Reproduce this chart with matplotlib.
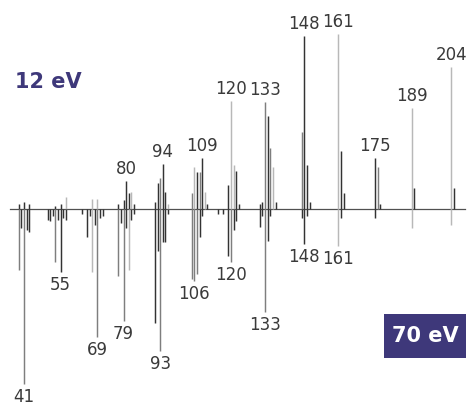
import matplotlib
matplotlib.use("Agg")
import matplotlib.pyplot as plt

# ---------------- data ----------------
# 12 eV spectrum (upper), m/z and relative intensity (%)
mz_12 = [39, 41, 43, 53, 55, 57, 67, 69, 77, 79, 80, 81, 82, 83,
         91, 92, 93, 94, 95, 96, 105, 106, 107, 108, 109, 110, 111,
         119, 120, 121, 122, 123, 131, 132, 133, 134, 135, 136, 137,
         147, 148, 149, 150, 161, 162, 163, 175, 176, 177, 189, 190, 204, 205]
int_12 = [3, 4, 3, 2, 3, 7, 6, 6, 3, 5, 16, 9, 10, 3,
          4, 15, 18, 26, 10, 3, 9, 24, 21, 21, 29, 10, 3,
          14, 62, 25, 22, 3, 3, 4, 61, 53, 35, 24, 4,
          44, 99, 25, 4, 100, 33, 9, 29, 24, 3, 58, 12, 81, 12]

# 70 eV spectrum (lower), m/z and relative intensity (%)
mz_70 = [39, 40, 41, 42, 43, 50, 51, 52, 53, 54, 55, 56, 57, 63, 65, 66, 67,
         68, 69, 70, 71, 77, 78, 79, 80, 81, 82, 83, 91, 92, 93, 94, 95, 96,
         105, 106, 107, 108, 109, 115, 117, 119, 120, 121, 122, 131, 132,
         133, 134, 135, 147, 148, 149, 161, 162, 175, 189, 204]
int_70 = [35, 11, 100, 12, 13, 6, 7, 4, 30, 6, 36, 5, 6, 3, 16, 4, 36,
          9, 73, 5, 4, 38, 8, 64, 11, 35, 6, 3, 65, 24, 81, 19, 19, 3,
          40, 41, 37, 16, 4, 3, 3, 27, 30, 12, 7, 10, 4,
          59, 18, 4, 5, 20, 4, 21, 5, 5, 11, 9]

labels_12 = [80, 94, 109, 120, 133, 148, 161, 175, 189, 204]
labels_70 = [41, 55, 69, 79, 93, 106, 120, 133, 148, 161]

# ---------------- styles (shade class per peak) ----------------
light_12 = {57, 67, 69, 82, 96, 106, 110, 120, 121, 136, 161, 189, 204}
mid_12 = {93, 105, 108, 133, 135, 147, 176}
light_70 = {67, 81, 161, 189, 204}
mid_70 = {39, 41, 53, 69, 77, 79, 93, 105, 106, 107, 120, 133}

SHADE = {"d": "#333333", "m": "#7e7e7e", "l": "#b8b8b8"}


def shade(m, light, mid):
    if m in light:
        return SHADE["l"]
    if m in mid:
        return SHADE["m"]
    return SHADE["d"]


PX = 1.75  # pixels per percent

fig = plt.figure(figsize=(4.69, 4.05), dpi=100)
ax = fig.add_axes([0, 0, 1, 1])
ax.set_xlim(31.84, 210.84)
ax.set_ylim(-196 / PX, 209 / PX)
ax.axis("off")

# baseline
ax.plot([35.7, 209.3], [0, 0], color="#505050", lw=0.9, zorder=1)

# upper
ax.vlines(mz_12, 0, int_12,
          colors=[shade(m, light_12, mid_12) for m in mz_12], lw=1.05, zorder=2)
# lower
ax.vlines(mz_70, 0, [-v for v in int_70],
          colors=[shade(m, light_70, mid_70) for m in mz_70], lw=1.05, zorder=2)

lab_col = "#3a3a3a"
i12 = dict(zip(mz_12, int_12))
i70 = dict(zip(mz_70, int_70))
for m in labels_12:
    ax.annotate(str(m), (m, i12[m]), xytext=(0, 2), textcoords="offset points",
                ha="center", va="bottom", fontsize=12, color=lab_col,
                family="DejaVu Sans")
for m in labels_70:
    ax.annotate(str(m), (m, -i70[m]), xytext=(0, -3), textcoords="offset points",
                ha="center", va="top", fontsize=12, color=lab_col,
                family="DejaVu Sans")

purple = "#3e387a"
fig.text(15 / 469, 1 - 82 / 405, "12 eV", ha="left", va="center",
         fontsize=15, fontweight="bold", color=purple, family="DejaVu Sans")

fig.patches.append(plt.Rectangle((384 / 469, 1 - 358 / 405), 82 / 469, 44 / 405,
                                 transform=fig.transFigure, facecolor=purple,
                                 edgecolor="none", zorder=3))
fig.text(425 / 469, 1 - 336 / 405, "70 eV", ha="center", va="center",
         fontsize=15, fontweight="bold", color="white", family="DejaVu Sans",
         zorder=4)

fig.savefig("out.png", dpi=100, facecolor="white")
